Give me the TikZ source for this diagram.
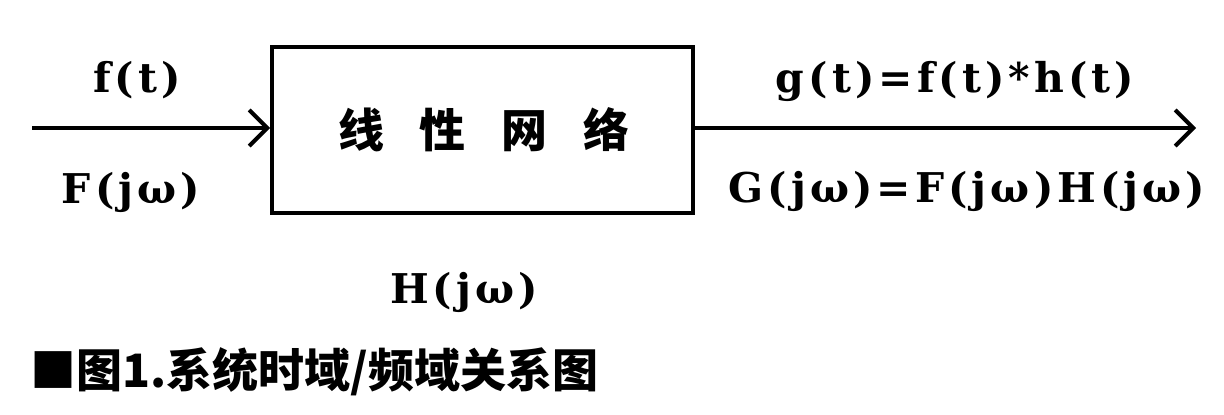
\documentclass[tikz,border=0pt]{standalone}
\usepackage{fontspec}
\setmainfont{Liberation Serif}
\newfontfamily\cjk{Noto Sans CJK SC}
\newfontfamily\lbl[LetterSpace=10]{DejaVu Serif}
\usetikzlibrary{arrows.meta}
\begin{document}
\begin{tikzpicture}[x=1pt,y=-1pt,
  lab/.style={font=\fontsize{41}{46}\selectfont\lbl\bfseries, inner sep=0pt, anchor=center},
  sig/.style={line width=4pt, -{Straight Barb[length=18pt,width=36pt,line width=4pt]}},
  blk/.style={draw, line width=4pt, minimum width=421pt, minimum height=166pt, inner sep=0pt}]
\useasboundingbox (0,0) rectangle (1224,415);
\node[blk] (net) at (482.5,129.5) {};
\node[font=\fontsize{46}{52}\selectfont\cjk\bfseries, inner sep=0pt] (nt) at (484,130) {线\hspace{36pt}性\hspace{36pt}网\hspace{36pt}络};
\coordinate (in) at (32,128);
\coordinate (out) at (1196,128);
\draw[sig] (in) -- (net.west |- in);
\draw[sig] (net.east |- out) -- (out);
\node[lab] (ft) at (137,80) {f(t)};
\node[lab] (Fj) at (131,192) {F(jω)};
\node[lab] (gt) at (955,81) {g(t)=f(t)*h(t)};
\node[lab] (Gj) at (967,191) {G(jω)=F(jω)H(jω)};
\node[lab] (Hj) at (464,292) {H(jω)};
\node[font=\fontsize{46}{52}\selectfont\cjk\bfseries, inner sep=0pt, anchor=west] (cap) at (30,372) {■图1.系统时域/频域关系图};
\end{tikzpicture}
\end{document}
